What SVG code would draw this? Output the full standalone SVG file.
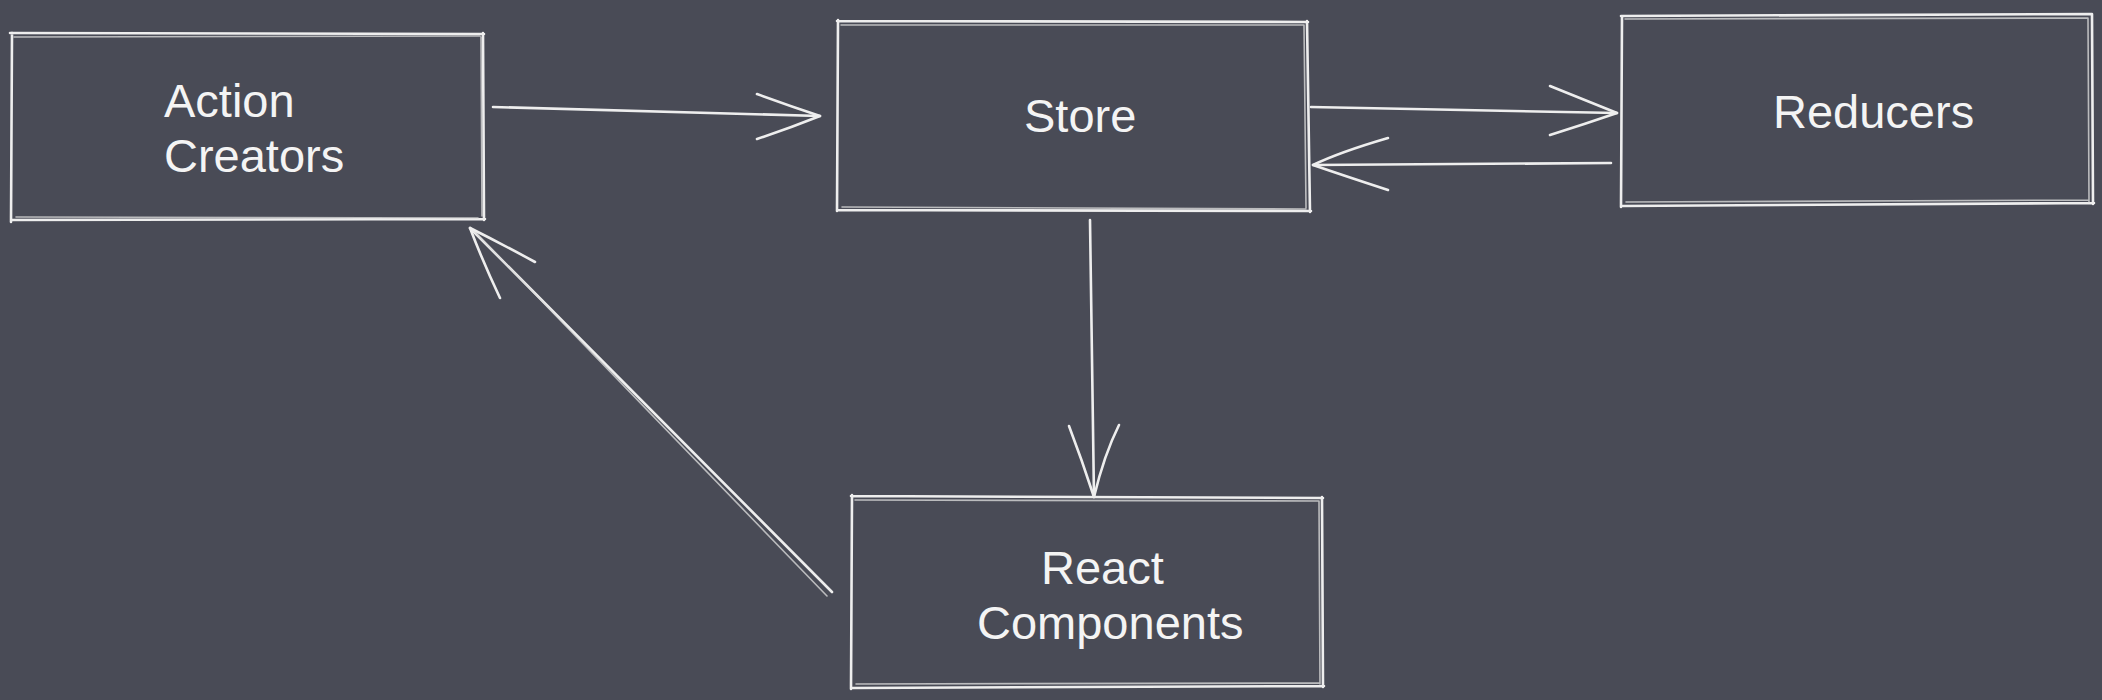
<svg xmlns="http://www.w3.org/2000/svg" width="2102" height="700" viewBox="0 0 2102 700">
<style>
.bg{fill:#494b56}
.s{fill:none;stroke:#eeeeee;stroke-width:2.6;stroke-linecap:round;stroke-linejoin:round}
.s2{fill:none;stroke:#d8d8d8;stroke-width:1.6;stroke-linecap:round;opacity:0.8}
.t{font-family:"Liberation Sans",Arial,sans-serif;font-size:47px;fill:#f4f4f4}
</style>
<rect class="bg" x="0" y="0" width="2102" height="700"/>
<g id="node-action-creators">
<path class="s" d="M10 33 L484 34 M483 33 L484 220 M485 219 L11 220 M11 222 L12 33"/>
<path class="s2" d="M14 37 L480 36 M16 217 L478 218 M481 37 L482 216"/>
<text class="t" x="164" y="117">Action</text>
<text class="t" x="164" y="172">Creators</text>
</g>
<g id="node-store">
<path class="s" d="M837 21 L1308 22 M1307 21 L1310 212 M1311 211 L838 210 M837 211 L838 20"/>
<path class="s2" d="M841 25 L1304 25 M842 207 L1306 209 M1304 25 L1306 208"/>
<text class="t" x="1024" y="132">Store</text>
</g>
<g id="node-reducers">
<path class="s" d="M1621 16 L2092 14 M2092 14 L2093 204 M2094 203 L1622 206 M1621 207 L1622 16"/>
<path class="s2" d="M1625 19 L2088 18 M1626 202 L2089 200 M2088 18 L2089 202"/>
<text class="t" x="1773" y="128">Reducers</text>
</g>
<g id="node-react-components">
<path class="s" d="M851 496 L1323 498 M1322 497 L1323 687 M1324 686 L852 688 M851 689 L852 495"/>
<path class="s2" d="M855 500 L1319 501 M856 684 L1320 683 M1319 501 L1320 684"/>
<text class="t" x="1041" y="584">React</text>
<text class="t" x="977" y="639">Components</text>
</g>
<g id="connectors">
<path class="s" d="M493 107 L820 116"/>
<path class="s" d="M757 94 Q790 106 820 116 Q790 128 757 139"/>
<path class="s" d="M1311 107 L1617 113"/>
<path class="s" d="M1550 86 Q1585 100 1617 113 Q1585 124 1550 135"/>
<path class="s" d="M1611 163 L1313 165"/>
<path class="s" d="M1388 138 Q1340 152 1313 165 Q1345 176 1388 190"/>
<path class="s" d="M1090 220 L1094 497"/>
<path class="s" d="M1069 426 Q1082 460 1094 497 Q1104 455 1119 425"/>
<path class="s" d="M832 592 L470 228"/>
<path class="s2" d="M827 596 L474 231"/>
<path class="s" d="M535 262 Q500 243 470 228 Q483 262 500 298"/>
</g>
</svg>
